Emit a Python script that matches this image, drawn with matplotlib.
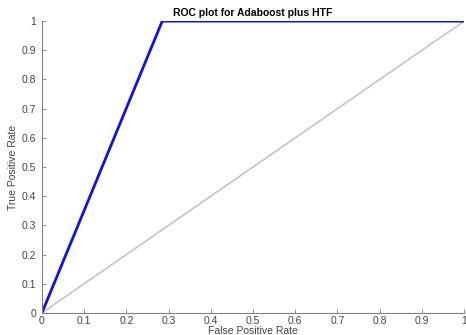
import matplotlib
matplotlib.use("Agg")
import matplotlib.pyplot as plt
import numpy as np

fpr = [0.0, 0.285, 1.0]
tpr = [0.0, 1.0, 1.0]
diag_x = [0.0, 1.0]
diag_y = [0.0, 1.0]
ticks = [0, 0.1, 0.2, 0.3, 0.4, 0.5, 0.6, 0.7, 0.8, 0.9, 1]
tick_labels = ["0", "0.1", "0.2", "0.3", "0.4", "0.5", "0.6", "0.7", "0.8", "0.9", "1"]

plt.rcParams['font.family'] = ['Liberation Sans', 'DejaVu Sans']
fig = plt.figure(figsize=(4.66, 3.35), dpi=100)
ax = fig.add_axes([0.090, 0.066, 0.906, 0.871])
ax.plot(diag_x, diag_y, color='#c8c8c8', lw=1.3)
ax.plot(fpr, tpr, color='#1010ee', lw=2.0)
ax.set_xlim(0, 1)
ax.set_ylim(0, 1)
ax.set_xticks(ticks)
ax.set_xticklabels(tick_labels)
ax.set_yticks(ticks)
ax.set_yticklabels(tick_labels)
for s in ['top', 'right']:
    ax.spines[s].set_visible(False)
for s in ['left', 'bottom']:
    ax.spines[s].set_color('#808080')
    ax.spines[s].set_linewidth(0.8)
ax.tick_params(direction='in', length=3, width=0.6, colors='#808080', labelsize=7.5, labelcolor='#444444')
ax.tick_params(axis='x', pad=2)
ax.tick_params(axis='y', pad=4)
ax.set_xlabel('False Positive Rate', fontsize=7.5, color='#444444', labelpad=0)
ax.set_ylabel('True Positive Rate', fontsize=7.5, color='#444444', labelpad=3)
ax.set_title('ROC plot for Adaboost plus HTF', fontsize=7.5, fontweight='bold', pad=4)
fig.savefig('out.png', dpi=100)
